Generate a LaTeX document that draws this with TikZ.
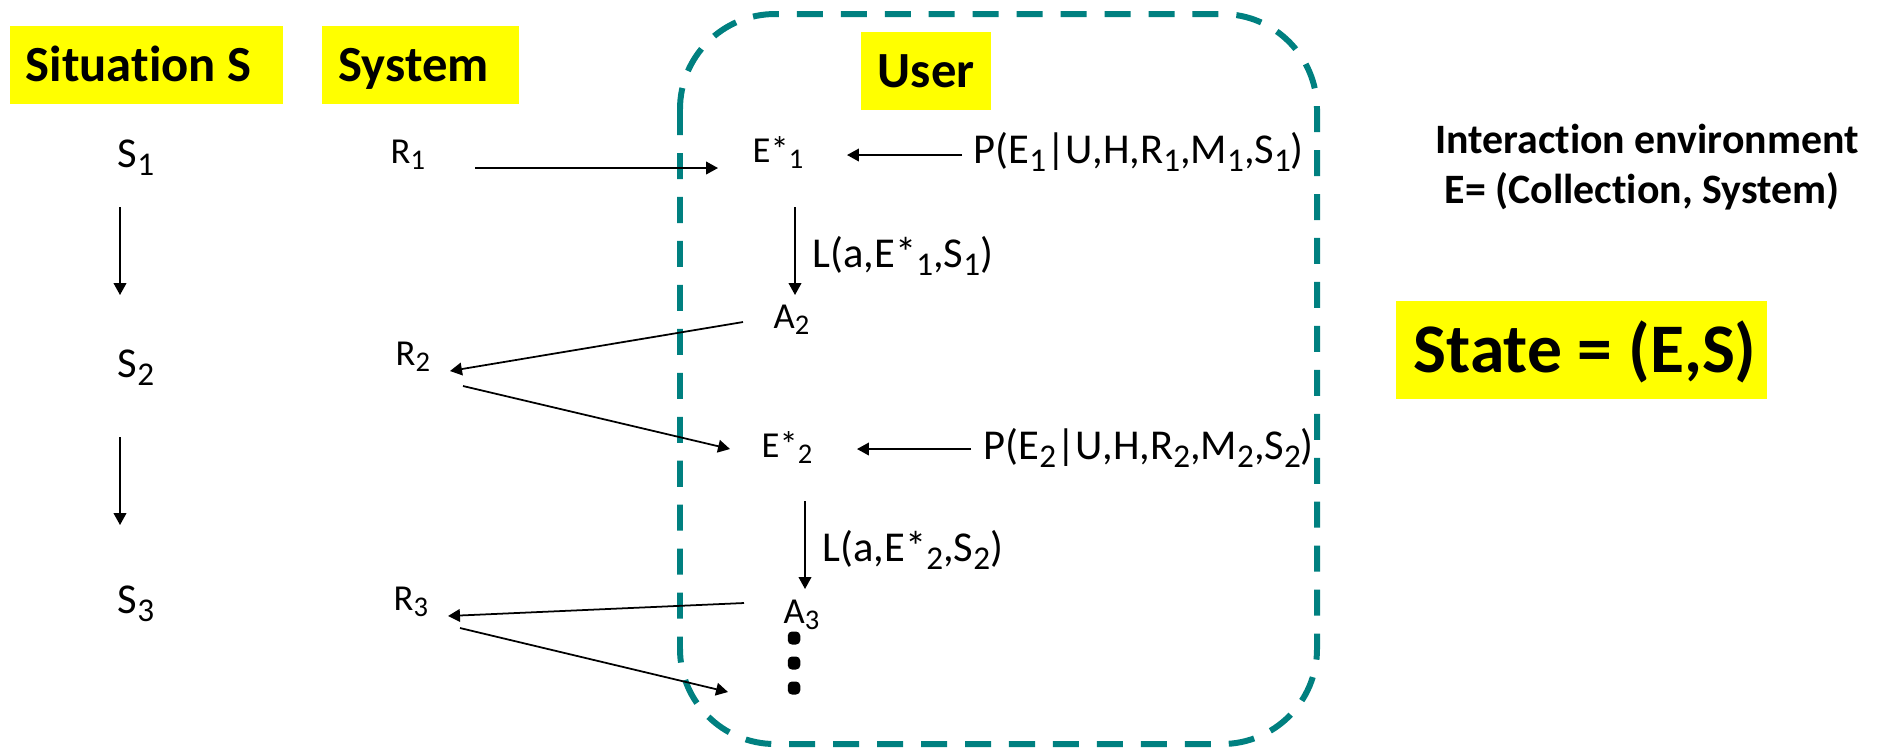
\documentclass[tikz,border=0pt]{standalone}
\usepackage{fontspec}
\setmainfont[Ligatures=NoCommon]{Carlito}
\usepackage{graphicx}
\usetikzlibrary{arrows.meta}
\definecolor{boxteal}{RGB}{0,128,128}
\definecolor{hiyellow}{RGB}{255,255,0}
\newcommand\sbs[1]{\raisebox{-0.19em}{\scalebox{0.78}{#1}}}
\begin{document}
\begin{tikzpicture}[x=0.01cm,y=-0.01cm,
  hdr/.style={fill=hiyellow, font=\fontsize{14.4}{17}\selectfont\bfseries, inner ysep=0pt,
              text height=9.1pt, text depth=0pt, minimum height=0.78cm, anchor=west},
  lab/.style={inner sep=0pt, anchor=base west, font=\fontsize{12.1}{14}\selectfont},
  sml/.style={inner sep=0pt, anchor=base west, font=\fontsize{10.4}{12}\selectfont},
  info/.style={inner sep=0pt, anchor=base, font=\fontsize{11.9}{14}\selectfont\bfseries},
  arr/.style={-{Triangle[length=3.4pt,width=3.6pt]}, line width=0.5pt},
  userbox/.style={draw=boxteal, line width=1.7pt, dash pattern=on 7.4pt off 5.1pt, rounded corners=0.95cm},
  dot/.style={rectangle, rounded corners=1.2pt, fill=black, inner sep=0pt, minimum width=0.125cm, minimum height=0.13cm}]
\useasboundingbox (0,0) rectangle (1885,750);

% user region
\draw[userbox] (680,14) rectangle (1317,744);

% headers
\node[hdr, inner xsep=0.16cm] (sit) at (9,65) {\makebox[2.41cm][l]{Situation S}};
\node[hdr, inner xsep=0.17cm] (sys) at (321,65) {\makebox[1.63cm][l]{System}};
\node[hdr, inner xsep=0.17cm] (usr) at (860,71) {\makebox[0.96cm][l]{User}};
\node[hdr, inner xsep=0.18cm, minimum height=0.98cm, text height=12.6pt,
      font=\fontsize{19.8}{24}\selectfont\bfseries] (state) at (1395,350) {\makebox[3.35cm][l]{State = (E,S)}};

% info text
\node[info] (int1) at (1647,153) {Interaction environment};
\node[info] (int2) at (1642,203) {E= (Collection, System)};

% situation column
\node[lab] (S1) at (117,167) {S\sbs{1}};
\node[lab] (S2) at (117,377) {S\sbs{2}};
\node[lab] (S3) at (117,613) {S\sbs{3}};

% system column
\node[sml] (R1) at (390,163) {R\sbs{1}};
\node[sml] (R2) at (395,365) {R\sbs{2}};
\node[sml] (R3) at (393,610) {R\sbs{3}};

% user column
\node[sml] (E1) at (752,162) {E*\sbs{1}};
\node[sml] (A2) at (773,328) {A\sbs{2}};
\node[sml] (E2) at (761,457) {E*\sbs{2}};
\node[sml] (A3) at (783,623) {A\sbs{3}};
\node[dot] (d1) at (794,638) {};
\node[dot] (d2) at (794,663) {};
\node[dot] (d3) at (794,688) {};

% probability / likelihood labels
\node[lab] (P1) at (973,163) {P(E\sbs{1}|U,H,R\sbs{1},M\sbs{1},S\sbs{1})};
\node[lab] (P2) at (983,459) {P(E\sbs{2}|U,H,R\sbs{2},M\sbs{2},S\sbs{2})};
\node[lab] (L1) at (812,267) {L(a,E*\sbs{1},S\sbs{1})};
\node[lab] (L2) at (822,561) {L(a,E*\sbs{2},S\sbs{2})};

% connectors
\draw[arr] ([shift={(3,40)}]S1.base west) -- ([shift={(3,-82)}]S2.base west);
\draw[arr] ([shift={(3,60)}]S2.base west) -- ([shift={(3,-88)}]S3.base west);
\draw[arr] ([shift={(85,5)}]R1.base west) -- ([shift={(-34,6)}]E1.base west);
\draw[arr] ([shift={(-11,-8)}]P1.base west) -- ([shift={(95,-7)}]E1.base west);
\draw[arr] ([shift={(43,45)}]E1.base west) -- ([shift={(22,-33)}]A2.base west);
\draw[arr] ([shift={(-30,-6)}]A2.base west) -- ([shift={(55,6)}]R2.base west);
\draw[arr] ([shift={(68,21)}]R2.base west) -- ([shift={(-31,-8)}]E2.base west);
\draw[arr] ([shift={(-12,-10)}]P2.base west) -- ([shift={(96,-8)}]E2.base west);
\draw[arr] ([shift={(44,44)}]E2.base west) -- ([shift={(22,-34)}]A3.base west);
\draw[arr] ([shift={(-39,-20)}]A3.base west) -- ([shift={(55,6)}]R3.base west);
\draw[arr] ([shift={(67,18)}]R3.base west) -- ([shift={(-66,4)}]d3.center);
\end{tikzpicture}
\end{document}
